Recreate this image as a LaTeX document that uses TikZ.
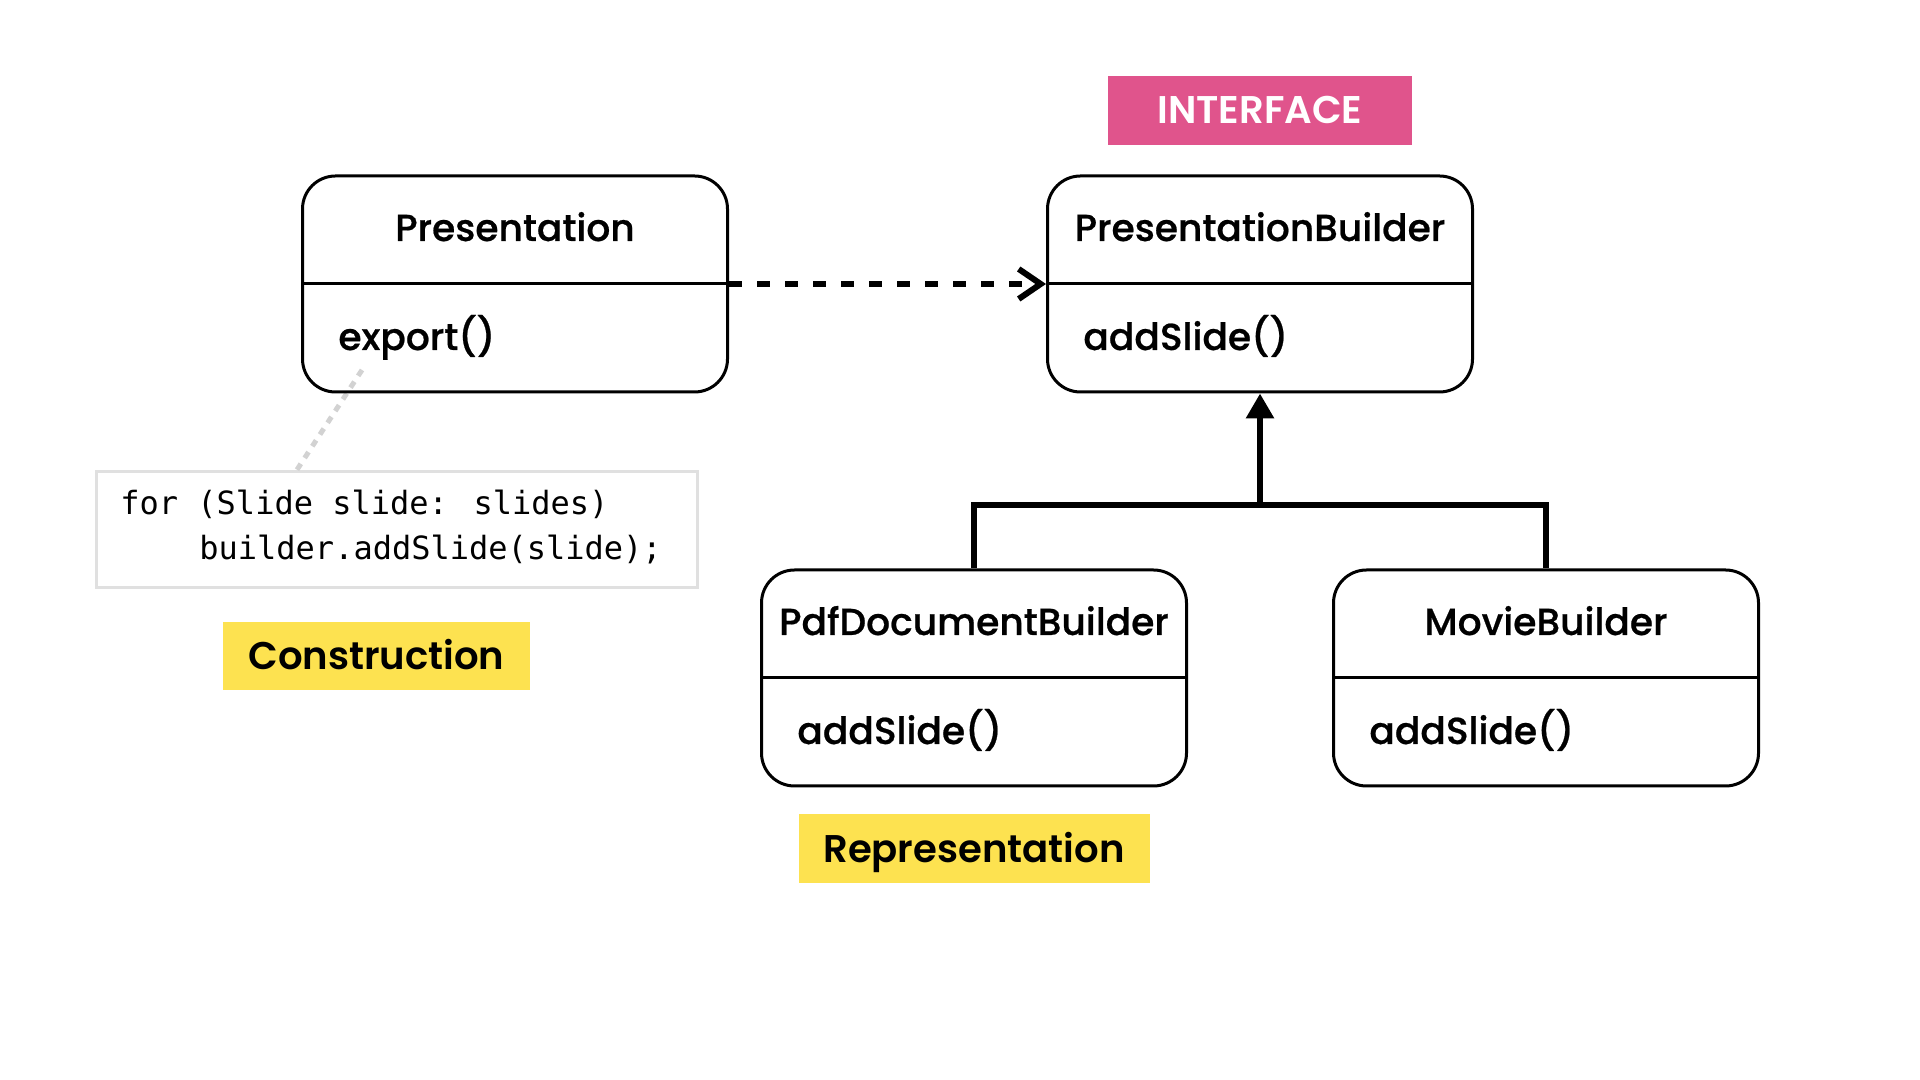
\documentclass[tikz,border=0pt]{standalone}
\usepackage{fontspec}
\setmainfont{Poppins}
\IfFontExistsTF{Poppins Medium}{\newfontfamily\medfont{Poppins Medium}[FakeBold=0.6]}{\newfontfamily\medfont{Poppins}[FakeBold=1.2]}
\IfFontExistsTF{Poppins SemiBold}{\newfontfamily\semifont{Poppins SemiBold}}{\newfontfamily\semifont{Poppins}[FakeBold=1.5]}
\newfontfamily\codefont{DejaVu Sans Mono}
\usetikzlibrary{calc}
\usetikzlibrary{positioning}
\usetikzlibrary{arrows.meta}
\definecolor{tagpink}{RGB}{224,84,140}
\definecolor{tagyellow}{RGB}{253,226,80}
\definecolor{codegray}{RGB}{224,224,224}
\definecolor{notegray}{RGB}{210,210,210}

\begin{document}
\begin{tikzpicture}[x=0.5pt, y=0.5pt,
		classbox/.style={draw, line width=1.5pt, rounded corners=16.5pt, minimum width=212.5pt, minimum height=108pt, inner sep=0pt},
		divider/.style={line width=1.5pt},
		clstitle/.style={anchor=base, inner sep=0pt, font=\medfont\fontsize{18.8}{22}\selectfont},
		clsmethod/.style={anchor=base west, inner sep=0pt, font=\medfont\fontsize{18.8}{22}\selectfont},
		tag/.style={inner sep=0pt, text depth=0pt, font=\semifont\fontsize{19.3}{23}\selectfont},
		codebox/.style={draw=codegray, line width=1.5pt, minimum width=300.5pt, minimum height=58pt},
		codetext/.style={anchor=base west, inner sep=0pt, font=\codefont\fontsize{16}{22.5}\selectfont},
		noteline/.style={notegray, line width=2.5pt, dash pattern=on 3.5pt off 3.5pt},
		depend/.style={line width=3pt, dash pattern=on 6.5pt off 7.5pt, -{Straight Barb[length=11pt, width=15pt, line width=3pt]}},
		tree/.style={line width=3pt}]
		\fill[white] (0,0) rectangle (1920,1080);
		\useasboundingbox (0,0) rectangle (1920,1080);
		% note box with the loop
		\node[codebox] (code) at (396.5,550) {};
		\node[codetext] (code-l1) at (120,565) {for (Slide slide: slides)};
		\node[codetext] (code-l2) at (199,520) {builder.addSlide(slide);};
		\coordinate (note-start) at (362,710);
		\coordinate (note-end) at ($(code.north west)+(202,0)$);
		\draw[noteline] (note-start) -- (note-end);
		% classes
		\foreach \cname/\cx/\cy/\ctitle/\cmeth in {pres/515/796/Presentation/export(), pb/1260/796/PresentationBuilder/addSlide(), pdf/974/402/PdfDocumentBuilder/addSlide(), movie/1546/402/MovieBuilder/addSlide()}{
			\node[classbox] (\cname) at (\cx,\cy) {};
			\draw[divider] (\cname.west) -- (\cname.east);
			\node[clstitle] (\cname-title) at ($(\cname.center)+(0,43)$) {\ctitle};
			\node[clsmethod] (\cname-op) at ($(\cname.west)+(37,-66)$) {\cmeth};
		}
		% relations
		\draw[depend] (pres.east) -- (pb.west);
		\coordinate (fork) at (1260,575);
		\draw[tree] (pdf.north) |- (fork) -| (movie.north);
		\draw[tree, -{Triangle[length=12.5pt, width=13.5pt]}] (fork) -- (pb.south);
		% labels
		\node[tag, fill=tagpink, text=white, text height=13pt, minimum width=152pt, minimum height=34.5pt, above=14.5pt of pb] (iface) {INTERFACE};
		\node[tag, fill=tagyellow, text height=14pt, minimum width=153.5pt, minimum height=34pt] (construct) at (376.5,424) {Construction};
		\node[tag, fill=tagyellow, text height=14pt, minimum width=175.5pt, minimum height=34.5pt, below=13pt of pdf] (represent) {Representation};
	\end{tikzpicture}
\end{document}
